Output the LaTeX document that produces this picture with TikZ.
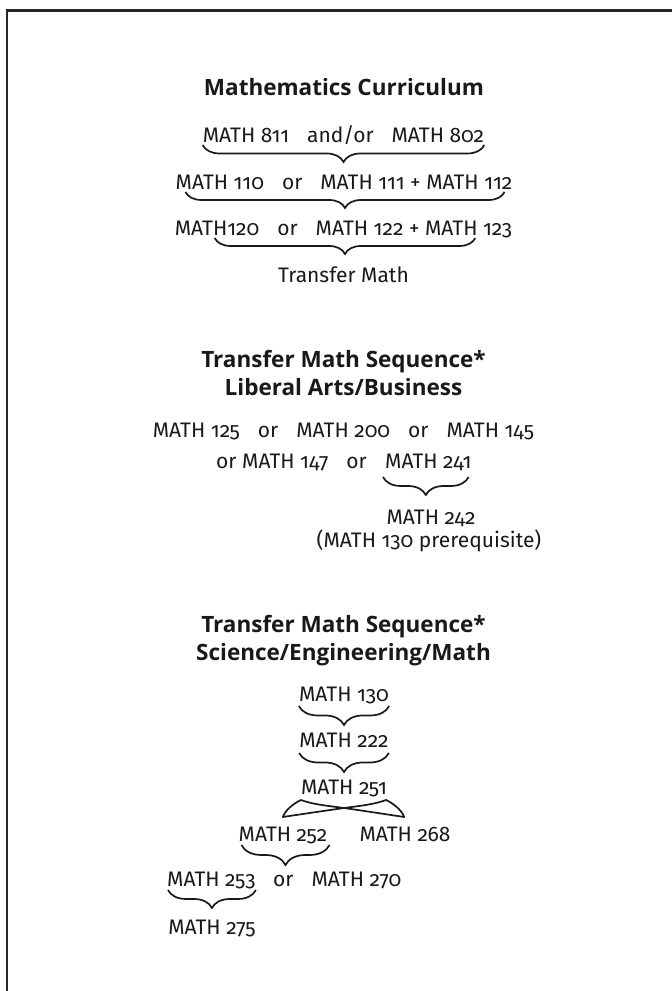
\documentclass[tikz,border=0pt]{standalone}
\usepackage{fontspec}
\setmainfont[Numbers=OldStyle]{Fira Sans}
\newfontfamily\hdfont{Open Sans}
\usetikzlibrary{decorations.pathreplacing, positioning, calc}
\newcommand{\gapp}{\hspace{18pt}}
\tikzset{
  tx/.style = {inner sep=0pt, anchor=base, text=black!90,
    font=\fontsize{21}{25}\selectfont},
  hd/.style = {tx, font=\fontsize{22.5}{27}\selectfont\hdfont\bfseries},
  br/.style = {decorate, decoration={brace, mirror, amplitude=#1},
    line width=1.7pt, draw=black!90},
  br/.default = 17pt,
  bw/.style = {line width=1.7pt, draw=black!90, line join=round},
  fr/.style = {draw=black!85, line width=2.6pt}
}

\begin{document}
\begin{tikzpicture}[x=1pt, y=1pt]
  \useasboundingbox (0,0) rectangle (672,991);
  \draw [fr] (672,980.5) -- (7,980.5) -- (7,0);

  \node [hd] (t1) at (344,895) {Mathematics Curriculum};
  \node [tx] (l1) at (343.5,848) {MATH 811\gapp and/or\gapp MATH 802};
  \node [tx] (l2) at (344,801) {MATH 110\gapp or\gapp MATH 111 + MATH 112};
  \node [tx] (l3) at (343.5,755) {MATH120\gapp or\gapp MATH 122 + MATH 123};
  \node [tx] (tm) at (343.5,708) {Transfer Math};
  \draw [br] ($(l1.base west)+(0,-2)$) -- ($(l1.base east)+(0,-2)$);
  \draw [br=16pt] ($(l2.base west)+(10,-2)$) -- ($(l2.base east)+(-8,-2)$);
  \draw [br=16pt] ($(l3.base west)+(40,-2)$) -- ($(l3.base east)+(-37,-2)$);

  \node [hd] (h2a) at (343.5,623) {Transfer Math Sequence*};
  \node [hd] (h2b) at (343.5,595) {Liberal Arts/Business};
  \node [tx] (m1) at (343.5,553) {MATH 125\gapp or\gapp MATH 200\gapp or\gapp MATH 145};
  \node [tx, anchor=base west] (m241) at (385,522) {MATH 241};
  \node [tx, anchor=base east] (m2) at ($(m241.base west)+(-18,0)$) {or MATH 147\gapp or};
  \draw [br=18pt] ($(m241.base west)+(-2,-8)$) -- ($(m241.base east)+(-3,-8)$);
  \node [tx] (m242) at (431,466) {MATH 242};
  \node [tx] (pre) at (429,443) {(MATH 130 prerequisite)};

  \node [hd] (h3a) at (343.5,358) {Transfer Math Sequence*};
  \node [hd] (h3b) at (343.5,330) {Science/Engineering/Math};
  \node [tx] (c130) at (344,289) {MATH 130};
  \node [tx] (c222) at (344,243) {MATH 222};
  \node [tx] (c251) at (344,196) {MATH 251};
  \node [tx] (c252) at (283,149) {MATH 252};
  \node [tx] (c268) at (405,149) {MATH 268};
  \node [tx, anchor=base west] (c253) at (167,104) {MATH 253};
  \node [tx, anchor=base west] (c270) at (273,104) {or\gapp MATH 270};
  \node [tx] (c275) at (212,56) {MATH 275};
  \draw [br=19pt] ($(c130.base west)+(0,-4)$) -- ($(c130.base east)+(0,-4)$);
  \draw [br=19pt] ($(c222.base west)+(0,-5)$) -- ($(c222.base east)+(0,-5)$);
  \draw [br=20pt] ($(c252.base west)+(3,-3)$) -- ($(c252.base east)+(2,-3)$);
  \draw [br=18pt] ($(c253.base west)+(1,-3)$) -- ($(c253.base east)+(0,-3)$);

  \coordinate (a1) at ($(c251.base west)+(0,-5)$);
  \coordinate (a2) at ($(c251.base east)+(-1,-5)$);
  \coordinate (cx) at ($(c251.base)+(0,-13)$);
  \coordinate (t1) at ($(c251.base west)+(-18,-22)$);
  \coordinate (t2) at ($(c251.base east)+(17,-22)$);
  \draw [bw] (a1) .. controls +(14,-5) and +(-14,2) .. (cx)
    .. controls +(14,-2) and +(-20,3) .. (t2)
    .. controls +(-3,8) and +(6,-3) .. (a2)
    .. controls +(-14,-5) and +(14,2) .. (cx)
    .. controls +(-14,-2) and +(20,3) .. (t1)
    .. controls +(3,8) and +(-6,-3) .. (a1);
\end{tikzpicture}
\end{document}
